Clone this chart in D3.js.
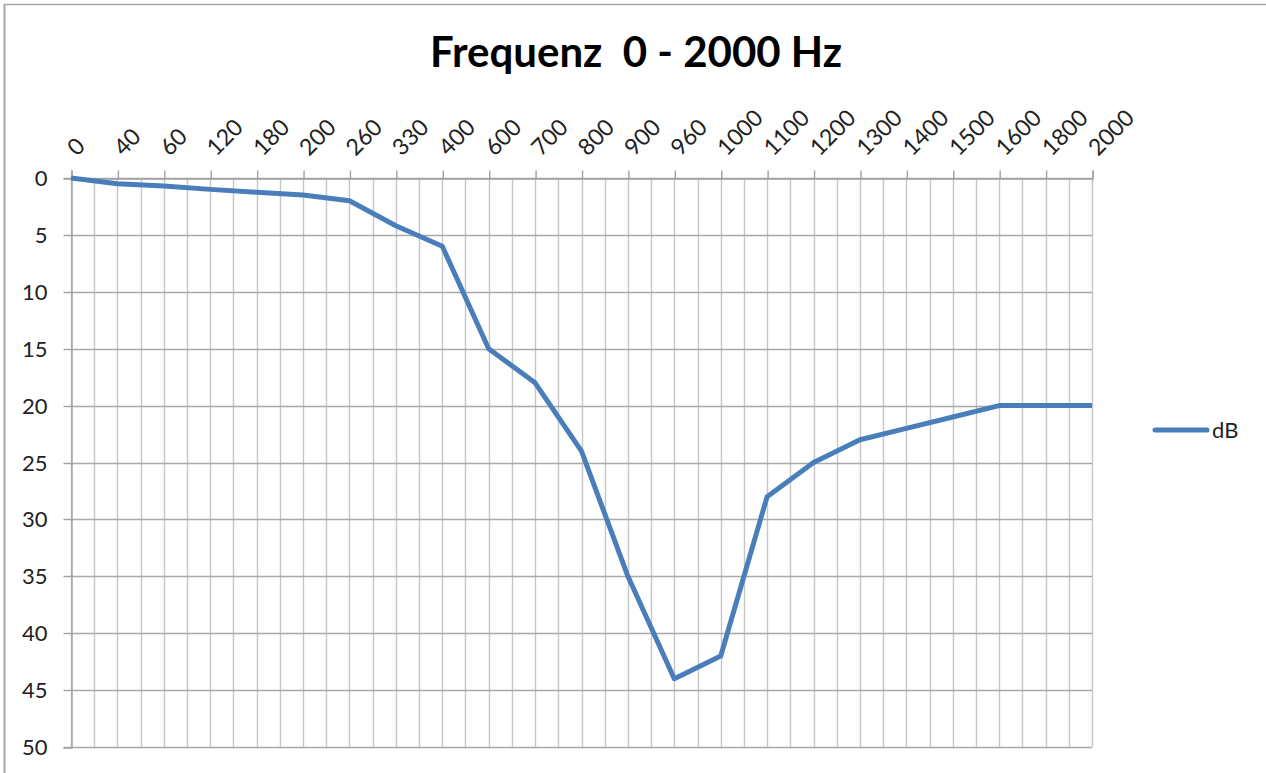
<!DOCTYPE html>
<html>
<head>
<meta charset="utf-8">
<script src="https://cdn.jsdelivr.net/npm/d3@7/dist/d3.min.js"></script>
<style>
  html, body { margin: 0; padding: 0; background: #fff; }
  svg { display: block; font-family: Lato, "Open Sans", sans-serif; }
</style>
</head>
<body>
<svg id="chart" width="1266" height="773"></svg>
<script>
// Frequency categories (Hz) and measured attenuation (dB)
const frequencies = ["0", "40", "60", "120", "180", "200", "260", "330", "400", "600", "700",
  "800", "900", "960", "1000", "1100", "1200", "1300", "1400", "1500", "1600", "1800", "2000"];
const dbValues = [0, 0.5, 0.7, 1, 1.25, 1.5, 2, 4.2, 6, 15, 18,
  24, 35, 44, 42, 28, 25, 23, 22, 21, 20, 20, 20];
const yTicks = [0, 5, 10, 15, 20, 25, 30, 35, 40, 45, 50];
const seriesName = "dB";
const titleText = "Frequenz  0 - 2000 Hz";

const svg = d3.select("#chart");
const plot = { left: 71, right: 1092, top: 178, bottom: 747 };
const blue = "#4a7ebb";
const axisGrey = "#a0a0a0";
const textColor = "#222";

// Outer frame (top and left edges are visible)
svg.append("line").attr("x1", 4).attr("x2", 1266).attr("y1", 4.5).attr("y2", 4.5)
  .attr("stroke", "#a6a6a6").attr("stroke-width", 1.5);
svg.append("line").attr("x1", 4.5).attr("x2", 4.5).attr("y1", 4).attr("y2", 773)
  .attr("stroke", "#a6a6a6").attr("stroke-width", 2);

const x = d3.scalePoint().domain(frequencies).range([plot.left, plot.right]);
const y = d3.scaleLinear().domain([0, 50]).range([plot.top, plot.bottom]);
const step = x.step();

// Vertical gridlines: on each category and halfway between
const g = svg.append("g");
const vLines = [];
frequencies.forEach((f, i) => {
  vLines.push(x(f));
  if (i < frequencies.length - 1) vLines.push(x(f) + step / 2);
});
g.selectAll("line.v").data(vLines).join("line")
  .attr("x1", d => Math.round(d) + 0.5).attr("x2", d => Math.round(d) + 0.5)
  .attr("y1", plot.top).attr("y2", plot.bottom)
  .attr("stroke", "#c6c6c6").attr("stroke-width", 1.4);

// Horizontal gridlines
g.selectAll("line.h").data(yTicks).join("line")
  .attr("x1", plot.left).attr("x2", plot.right)
  .attr("y1", d => Math.round(y(d)) + 0.5).attr("y2", d => Math.round(y(d)) + 0.5)
  .attr("stroke", "#a9a9a9").attr("stroke-width", 1.4);

// Top category axis
const xAxis = d3.axisTop(x).tickSize(8).tickPadding(0).tickFormat(() => "");
const xg = svg.append("g").attr("transform", `translate(0.5,${Math.round(plot.top) + 0.5})`).call(xAxis);
xg.select(".domain").attr("stroke", axisGrey).attr("stroke-width", 1.4);
xg.selectAll(".tick line").attr("stroke", axisGrey).attr("stroke-width", 1.4);

// Rotated category labels
svg.append("g").selectAll("text").data(frequencies).join("text")
  .attr("transform", d => `translate(${x(d) + 6},${plot.top - 21}) rotate(-45)`)
  .attr("font-size", 23).attr("fill", textColor)
  .text(d => d);

// Left value axis
const yAxis = d3.axisLeft(y).tickValues(yTicks).tickSize(8).tickPadding(16);
const yg = svg.append("g").attr("transform", `translate(${plot.left + 0.5},0.5)`).call(yAxis);
yg.select(".domain").attr("stroke", axisGrey).attr("stroke-width", 1.4);
yg.selectAll(".tick line").attr("stroke", axisGrey).attr("stroke-width", 1.4);
yg.selectAll(".tick text").attr("font-size", 22).attr("fill", textColor)
  .attr("font-family", "Lato, 'Open Sans', sans-serif");
yg.selectAll(".tick").attr("transform", d => `translate(0,${Math.round(y(d))})`);

// Data line
const line = d3.line().x((d, i) => x(frequencies[i])).y(d => y(d));
svg.append("path").datum(dbValues)
  .attr("d", line)
  .attr("fill", "none").attr("stroke", blue).attr("stroke-width", 5)
  .attr("stroke-linejoin", "round");

// Title
svg.append("text").attr("x", 636).attr("y", 67).attr("text-anchor", "middle")
  .attr("font-size", 42).attr("font-weight", "bold").attr("fill", "#000")
  .style("white-space", "pre").text(titleText);

// Legend
const lg = svg.append("g").attr("transform", "translate(1155,430)");
lg.append("line").attr("x1", 0).attr("x2", 52).attr("y1", 0).attr("y2", 0)
  .attr("stroke", blue).attr("stroke-width", 5).attr("stroke-linecap", "round");
lg.append("text").attr("x", 57).attr("y", 8).attr("font-size", 22).attr("fill", textColor).text(seriesName);
</script>
</body>
</html>
